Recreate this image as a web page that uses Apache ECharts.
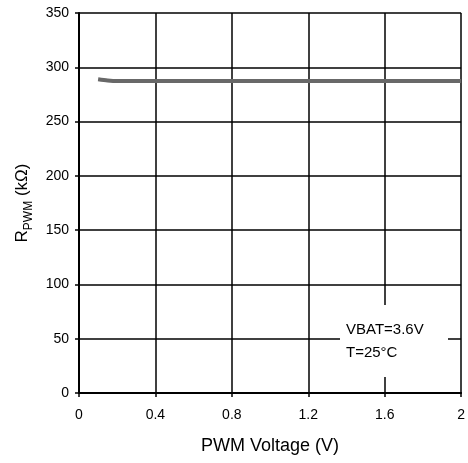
<!DOCTYPE html>
<html>
<head>
<meta charset="utf-8">
<script src="https://cdn.jsdelivr.net/npm/echarts@6/dist/echarts.min.js"></script>
<style>
html,body{margin:0;padding:0;background:#fff;}
#c{width:468px;height:463px;}
</style>
</head>
<body>
<div id="c"></div>
<script>
var voltage = [0.1, 0.15, 0.2, 0.4, 0.8, 1.2, 1.6, 2.0];
var resistance = [289, 287.9, 287.4, 287.4, 287.4, 287.4, 287.4, 287.4];
var xTicks = ['0', '0.4', '0.8', '1.2', '1.6', '2'];
var noteLines = ['VBAT=3.6V', 'T=25°C'];

var chart = echarts.init(document.getElementById('c'), null, {renderer: 'canvas'});
var font = 'Liberation Sans, Arial, sans-serif';
var pts = voltage.map(function (v, i) { return [v, resistance[i]]; });

chart.setOption({
  animation: false,
  backgroundColor: '#fff',
  grid: {left: 79, right: 6, top: 13, bottom: 70},
  xAxis: {
    type: 'value', min: 0, max: 2, interval: 0.4,
    name: 'PWM Voltage (V)', nameLocation: 'middle', nameGap: 44,
    nameTextStyle: {color: '#000', fontSize: 18, fontFamily: font},
    axisLine: {show: true, lineStyle: {color: '#000', width: 2}},
    axisTick: {show: true, length: 4, lineStyle: {color: '#000', width: 1.5}},
    axisLabel: {color: '#000', fontSize: 14, fontFamily: font, margin: 15,
      formatter: function (v) { var i = Math.round(v / 0.4); return xTicks[i]; }},
    splitLine: {show: true, lineStyle: {color: '#000', width: 1.5}}
  },
  yAxis: {
    type: 'value', min: 0, max: 350, interval: 50,
    name: '{a|R}{b|PWM}{a| (kΩ)}', nameLocation: 'middle', nameGap: 47,
    nameTextStyle: {color: '#000', fontFamily: font,
      rich: {
        a: {fontSize: 17, fontFamily: font, color: '#000', verticalAlign: 'bottom', lineHeight: 18},
        b: {fontSize: 12, fontFamily: font, color: '#000', verticalAlign: 'bottom', lineHeight: 12, padding: [0, 0, -4, 0]}
      }},
    axisLine: {show: true, lineStyle: {color: '#000', width: 2}},
    axisTick: {show: true, length: 4, lineStyle: {color: '#000', width: 1.5}},
    axisLabel: {color: '#000', fontSize: 14, fontFamily: font, margin: 10},
    splitLine: {show: true, lineStyle: {color: '#000', width: 1.5}}
  },
  series: [{
    type: 'line', data: pts, smooth: 0.3, showSymbol: false,
    lineStyle: {color: '#686868', width: 4}, z: 3
  }],
  graphic: [
    {type: 'rect', z: 100, shape: {x: 340, y: 305, width: 108, height: 72}, style: {fill: '#fff'}},
    {type: 'text', z: 101, x: 346, y: 330, style: {text: noteLines[0], fill: '#000', fontSize: 15, fontFamily: font, verticalAlign: 'middle'}},
    {type: 'text', z: 101, x: 346, y: 353, style: {text: noteLines[1], fill: '#000', fontSize: 15, fontFamily: font, verticalAlign: 'middle'}}
  ]
});
</script>
</body>
</html>
